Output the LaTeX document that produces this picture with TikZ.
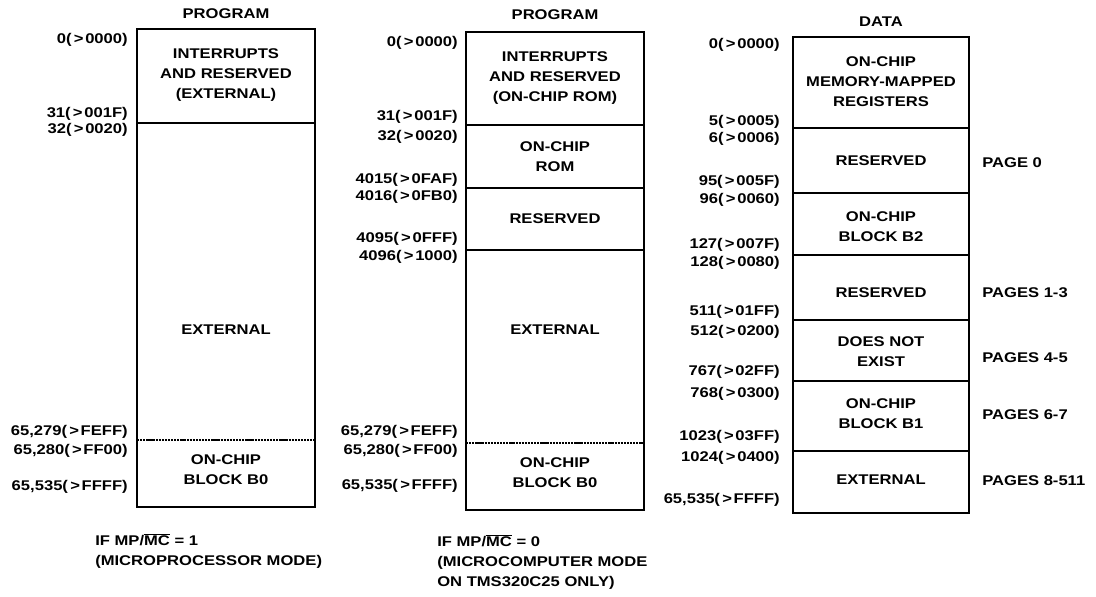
\documentclass[tikz,border=0pt]{standalone}
\usepackage{amsmath}
\usepackage{fontspec}
\usepackage{tikz}
\newfontfamily\memfont[FakeStretch=1.18]{Liberation Sans}
\newcommand{\hexmark}{\kern1.6pt>\kern1.2pt}

\begin{document}
\begin{tikzpicture}[x=0.025cm,y=-0.025cm,
    font=\memfont\bfseries\fontsize{10}{14.2}\selectfont,
    blk/.style={draw,line width=1pt},
    sep/.style={line width=1.1pt},
    cut/.style={line width=0.9pt,dash pattern=on 1.6pt off 0.6pt},
    txt/.style={align=center,inner sep=0pt},
    addr/.style={anchor=east,inner sep=0pt},
    page/.style={anchor=west,inner sep=0pt},
    note/.style={anchor=west,align=left,inner sep=0pt}]
  \useasboundingbox (0,0) rectangle (1096,597);

  % program map, microprocessor mode
  \node[txt] (hdA) at (226,14) {PROGRAM};
  \draw[blk] (137,29) rectangle (315,507);
  \draw[sep] (137,123) -- (315,123);
  \draw[cut] (137,440) -- (315,440);
  \node[txt] (a1) at (226,75) {INTERRUPTS\\AND RESERVED\\(EXTERNAL)};
  \node[txt] (a2) at (226,330) {EXTERNAL};
  \node[txt] (a3) at (226,470) {ON-CHIP\\BLOCK B0};
  \foreach \y/\t in {40/{0(\hexmark0000)},114/{31(\hexmark001F)},130/{32(\hexmark0020)},
      432/{65,279(\hexmark FEFF)},451/{65,280(\hexmark FF00)},487/{65,535(\hexmark FFFF)}}{
    \node[addr] at (128,\y) {\t};
  }
  \node[note] (capA) at (95,551)
    {IF MP/$\overline{\text{MC}}$ = 1\\(MICROPROCESSOR MODE)};

  % program map, microcomputer mode
  \node[txt] (hdB) at (555,15) {PROGRAM};
  \draw[blk] (466,32) rectangle (644,510);
  \draw[sep] (466,125) -- (644,125);
  \draw[sep] (466,188) -- (644,188);
  \draw[sep] (466,250) -- (644,250);
  \draw[cut] (466,443) -- (644,443);
  \node[txt] (b1) at (555,78) {INTERRUPTS\\AND RESERVED\\(ON-CHIP ROM)};
  \node[txt] (b2) at (555,157) {ON-CHIP\\ROM};
  \node[txt] (b3) at (555,219) {RESERVED};
  \node[txt] (b4) at (555,330) {EXTERNAL};
  \node[txt] (b5) at (555,473) {ON-CHIP\\BLOCK B0};
  \foreach \y/\t in {43/{0(\hexmark0000)},117/{31(\hexmark001F)},137/{32(\hexmark0020)},
      180/{4015(\hexmark0FAF)},197/{4016(\hexmark0FB0)},239/{4095(\hexmark0FFF)},
      257/{4096(\hexmark1000)},432/{65,279(\hexmark FEFF)},451/{65,280(\hexmark FF00)},
      486/{65,535(\hexmark FFFF)}}{
    \node[addr] at (458,\y) {\t};
  }
  \node[note] (capB) at (437,562)
    {IF MP/$\overline{\text{MC}}$ = 0\\(MICROCOMPUTER MODE\\ON TMS320C25 ONLY)};

  % data map
  \node[txt] (hdC) at (881,22) {DATA};
  \draw[blk] (793,37) rectangle (969,513);
  \foreach \y in {128,193,255,320,381,451}{
    \draw[sep] (793,\y) -- (969,\y);
  }
  \node[txt] (c1) at (881,82) {ON-CHIP\\MEMORY-MAPPED\\REGISTERS};
  \node[txt] (c2) at (881,161) {RESERVED};
  \node[txt] (c3) at (881,227) {ON-CHIP\\BLOCK B2};
  \node[txt] (c4) at (881,293) {RESERVED};
  \node[txt] (c5) at (881,352) {DOES NOT\\EXIST};
  \node[txt] (c6) at (881,414) {ON-CHIP\\BLOCK B1};
  \node[txt] (c7) at (881,480) {EXTERNAL};
  \foreach \y/\t in {45/{0(\hexmark0000)},122/{5(\hexmark0005)},139/{6(\hexmark0006)},
      182/{95(\hexmark005F)},200/{96(\hexmark0060)},245/{127(\hexmark007F)},
      263/{128(\hexmark0080)},312/{511(\hexmark01FF)},332/{512(\hexmark0200)},
      372/{767(\hexmark02FF)},394/{768(\hexmark0300)},437/{1023(\hexmark03FF)},
      458/{1024(\hexmark0400)},500/{65,535(\hexmark FFFF)}}{
    \node[addr] at (780,\y) {\t};
  }
  \foreach \y/\t in {163/{PAGE 0},293/{PAGES 1-3},358/{PAGES 4-5},
      415/{PAGES 6-7},481/{PAGES 8-511}}{
    \node[page] at (982,\y) {\t};
  }
\end{tikzpicture}
\end{document}
